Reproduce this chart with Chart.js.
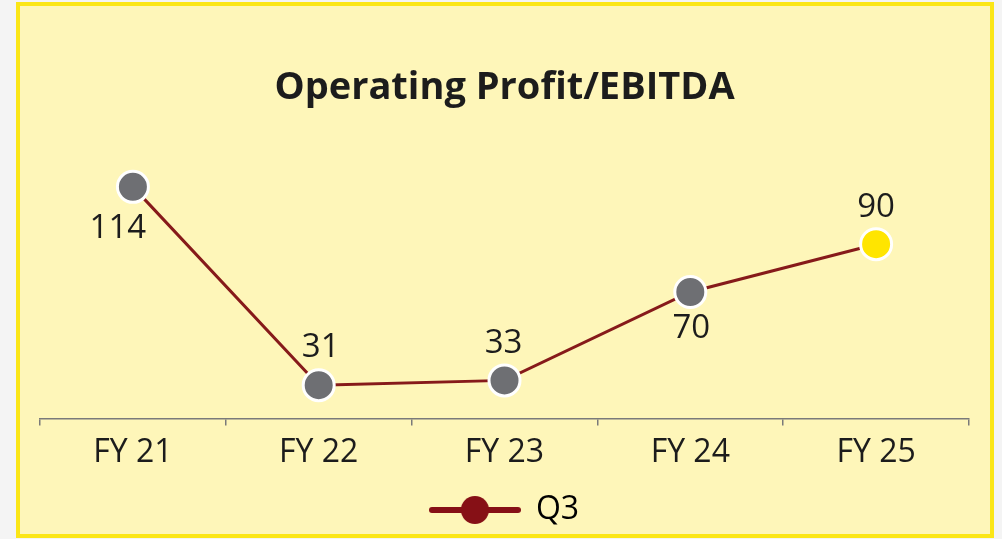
<!DOCTYPE html>
<html>
<head>
<meta charset="utf-8">
<script src="https://cdn.jsdelivr.net/npm/chart.js@4"></script>
<style>
  html, body { margin: 0; padding: 0; background: #f4f4f4; }
  #box {
    position: absolute; left: 16px; top: 2px; width: 978px; height: 536px;
    box-sizing: border-box; border: 4px solid #fbe617; background: #fef6b9;
  }
  #chart { display: block; }
</style>
</head>
<body>
<div id="box"><canvas id="chart" width="970" height="528"></canvas></div>
<script>
const years = ["FY 21", "FY 22", "FY 23", "FY 24", "FY 25"];
const q3Values = [114, 31, 33, 70, 90];
const seriesName = "Q3";

// legend marker: line with a dot in the middle
function legendMarker() {
  const c = document.createElement("canvas");
  c.width = 92; c.height = 30;
  const g = c.getContext("2d");
  g.strokeStyle = "#861016";
  g.lineWidth = 6;
  g.lineCap = "round";
  g.beginPath(); g.moveTo(3, 15); g.lineTo(89, 15); g.stroke();
  g.fillStyle = "#861016";
  g.beginPath(); g.arc(46, 15, 14, 0, Math.PI * 2); g.fill();
  return c;
}

const valueLabels = {
  id: "valueLabels",
  afterDatasetsDraw(chart, args, opts) {
    const ctx = chart.ctx;
    const meta = chart.getDatasetMeta(0);
    ctx.save();
    ctx.font = "500 33px 'Open Sans'";
    ctx.fillStyle = "#1c1c1c";
    ctx.textAlign = "center";
    ctx.textBaseline = "middle";
    meta.data.forEach((pt, i) => {
      const off = opts.offsets[i];
      ctx.fillText(String(chart.data.datasets[0].data[i]), pt.x + off[0], pt.y + off[1]);
    });
    ctx.restore();
  }
};

new Chart(document.getElementById("chart"), {
  type: "line",
  data: {
    labels: years,
    datasets: [{
      label: seriesName,
      data: q3Values,
      borderColor: "#861a1a",
      borderWidth: 3,
      pointRadius: 15.5,
      pointBorderWidth: 3,
      pointBorderColor: "#ffffff",
      pointBackgroundColor: ["#6e6f73", "#6e6f73", "#6e6f73", "#6e6f73", "#ffe500"],
      tension: 0,
      clip: false
    }]
  },
  options: {
    responsive: false,
    animation: false,
    layout: { padding: { left: 20, right: 21, top: 0, bottom: -2 } },
    scales: {
      x: {
        offset: true,
        grid: { drawOnChartArea: false, drawTicks: true, tickLength: 7, color: "#7a7a7a", lineWidth: 1.5, offset: true },
        border: { display: true, color: "#7a7a7a", width: 1.5 },
        ticks: { color: "#1c1c1c", padding: 8, font: { family: "'Open Sans'", size: 32 } }
      },
      y: { display: false, min: 17, max: 129.6 }
    },
    plugins: {
      title: {
        display: true,
        text: "Operating Profit/EBITDA",
        color: "#1c1c1c",
        font: { family: "'Open Sans'", size: 38, weight: "bold" },
        padding: { top: 59, bottom: 39 }
      },
      legend: {
        position: "bottom",
        labels: {
          usePointStyle: true,
          pointStyleWidth: 90,
          padding: 14,
          color: "#1c1c1c",
          font: { family: "'Open Sans'", size: 32 },
          generateLabels: (chart) => [{
            text: chart.data.datasets[0].label,
            pointStyle: legendMarker(),
            fillStyle: "#861016",
            strokeStyle: "#861016",
            lineWidth: 0,
            datasetIndex: 0
          }]
        }
      },
      tooltip: { enabled: false },
      valueLabels: { offsets: [[-15, 42], [2, -38], [-1, -37], [1, 37], [0, -37]] }
    }
  },
  plugins: [valueLabels]
});
</script>
</body>
</html>
